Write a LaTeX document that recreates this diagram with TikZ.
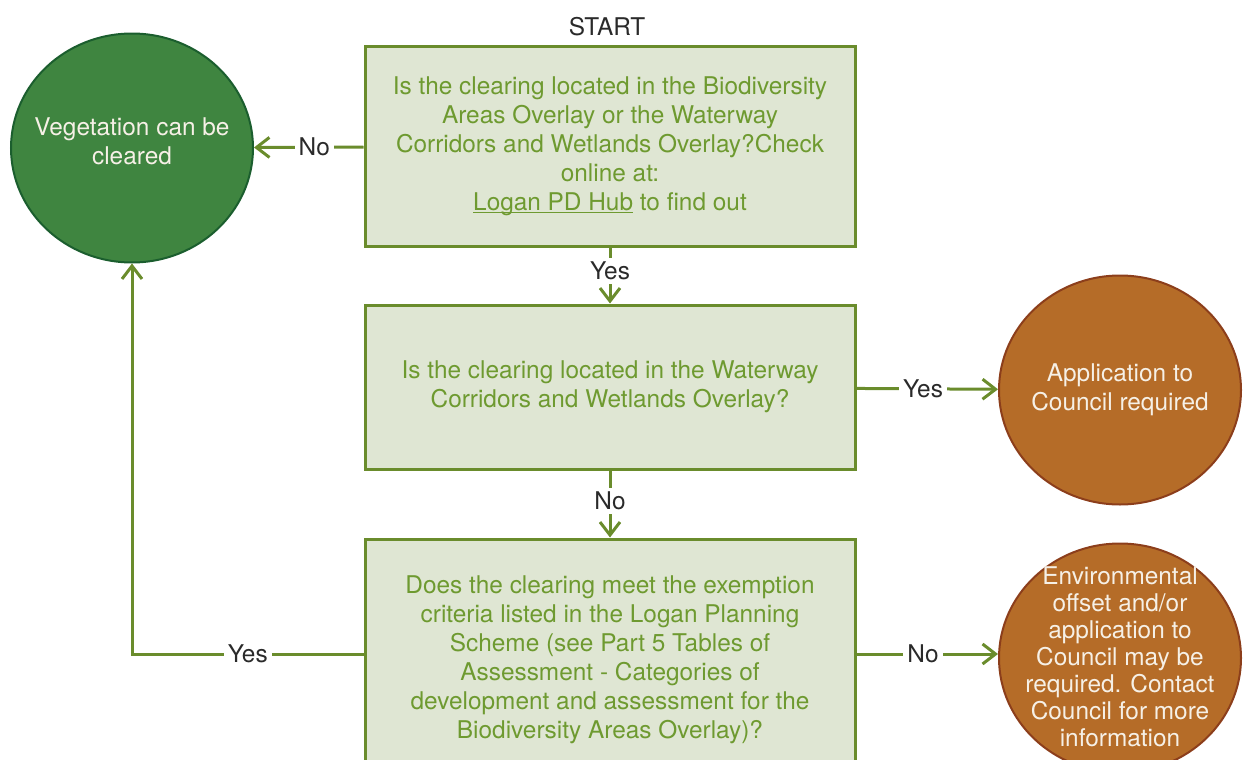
\documentclass[tikz,border=0pt]{standalone}
\usepackage{fontspec}
\setmainfont{TeX Gyre Heros}
\usetikzlibrary{shapes.geometric,arrows.meta}
\definecolor{boxfill}{HTML}{DFE6D3}
\definecolor{boxline}{HTML}{6A8C2C}
\definecolor{boxtext}{HTML}{6E9A30}
\definecolor{greenfill}{HTML}{3F8540}
\definecolor{greenline}{HTML}{1B5E2E}
\definecolor{orangefill}{HTML}{B56C28}
\definecolor{orangeline}{HTML}{8C3E1B}
\definecolor{labeltext}{HTML}{2A2A2A}
\definecolor{ovaltext}{HTML}{F6F0E6}
\newcommand\hublink[1]{\setbox0\hbox{#1}\rlap{\rule[-1.6pt]{\wd0}{0.5pt}}\box0}

\begin{document}
\begin{tikzpicture}[x=0.5pt,y=-0.5pt,
        every node/.style={font=\fontsize{12.2}{14.5}\selectfont},
        question/.style={draw=boxline,line width=1.5pt,fill=boxfill,text=boxtext,align=center,minimum width=245pt},
        oval/.style={ellipse,line width=1pt,minimum width=121pt,minimum height=114.5pt,inner sep=0pt},
        ovaltext/.style={text=ovaltext,align=center},
        arrow/.style={draw=boxline,line width=1.5pt,-{Straight Barb[length=6.5pt,width=10pt,line width=1.5pt]}},
        answer/.style={fill=white,text=labeltext,inner sep=2pt}]
        \useasboundingbox (0,0) rectangle (1248,760);
        \clip (0,0) rectangle (1248,760);
        % questions
        \node[question,minimum height=100pt] (q1) at (610,146) {Is the clearing located in the Biodiversity\\Areas Overlay or the Waterway\\Corridors and Wetlands Overlay?Check\\online at:\\\hublink{Logan PD Hub}\ to find out};
        \node[question,minimum height=82pt] (q2) at (610,387) {Is the clearing located in the Waterway\\Corridors and Wetlands Overlay?};
        \node[question,minimum height=121pt] (q3) at (610,660) {Does the clearing meet the exemption\\criteria listed in the Logan Planning\\Scheme (see Part 5 Tables of\\Assessment - Categories of\\development and assessment for the\\Biodiversity Areas Overlay)?};
        \node[text=labeltext] (start) at (607,27) {START};
        % outcomes
        \node[oval,draw=greenline,fill=greenfill] (cleared) at (132,148) {};
        \node[ovaltext] (clearedtext) at (132,141) {Vegetation can be\\cleared};
        \node[oval,draw=orangeline,fill=orangefill] (apply) at (1120,390) {};
        \node[ovaltext] (applytext) at (1120,390) {Application to\\Council required};
        \node[oval,draw=orangeline,fill=orangefill] (offset) at (1120,658) {};
        \node[ovaltext,font=\fontsize{12.2}{13.5}\selectfont] (offsettext) at (1120,657) {Environmental\\offset and/or\\application to\\Council may be\\required. Contact\\Council for more\\information};
        % connectors
        \draw[arrow] (q1) -- node[answer,pos=0.45] {No} (cleared);
        \draw[arrow] (q1) -- node[answer,pos=0.42] {Yes} (q2);
        \draw[arrow] (q2) -- node[answer,pos=0.47] {Yes} (apply);
        \draw[arrow] (q2) -- node[answer,pos=0.45] {No} (q3);
        \draw[arrow] ([yshift=3pt]q3.west) -| node[answer,pos=0.25] {Yes} (cleared.south);
        \draw[arrow] ([yshift=3pt]q3.east) -- node[answer,pos=0.47] {No} ([yshift=3pt]q3.east -| offset.west);
    \end{tikzpicture}
\end{document}
